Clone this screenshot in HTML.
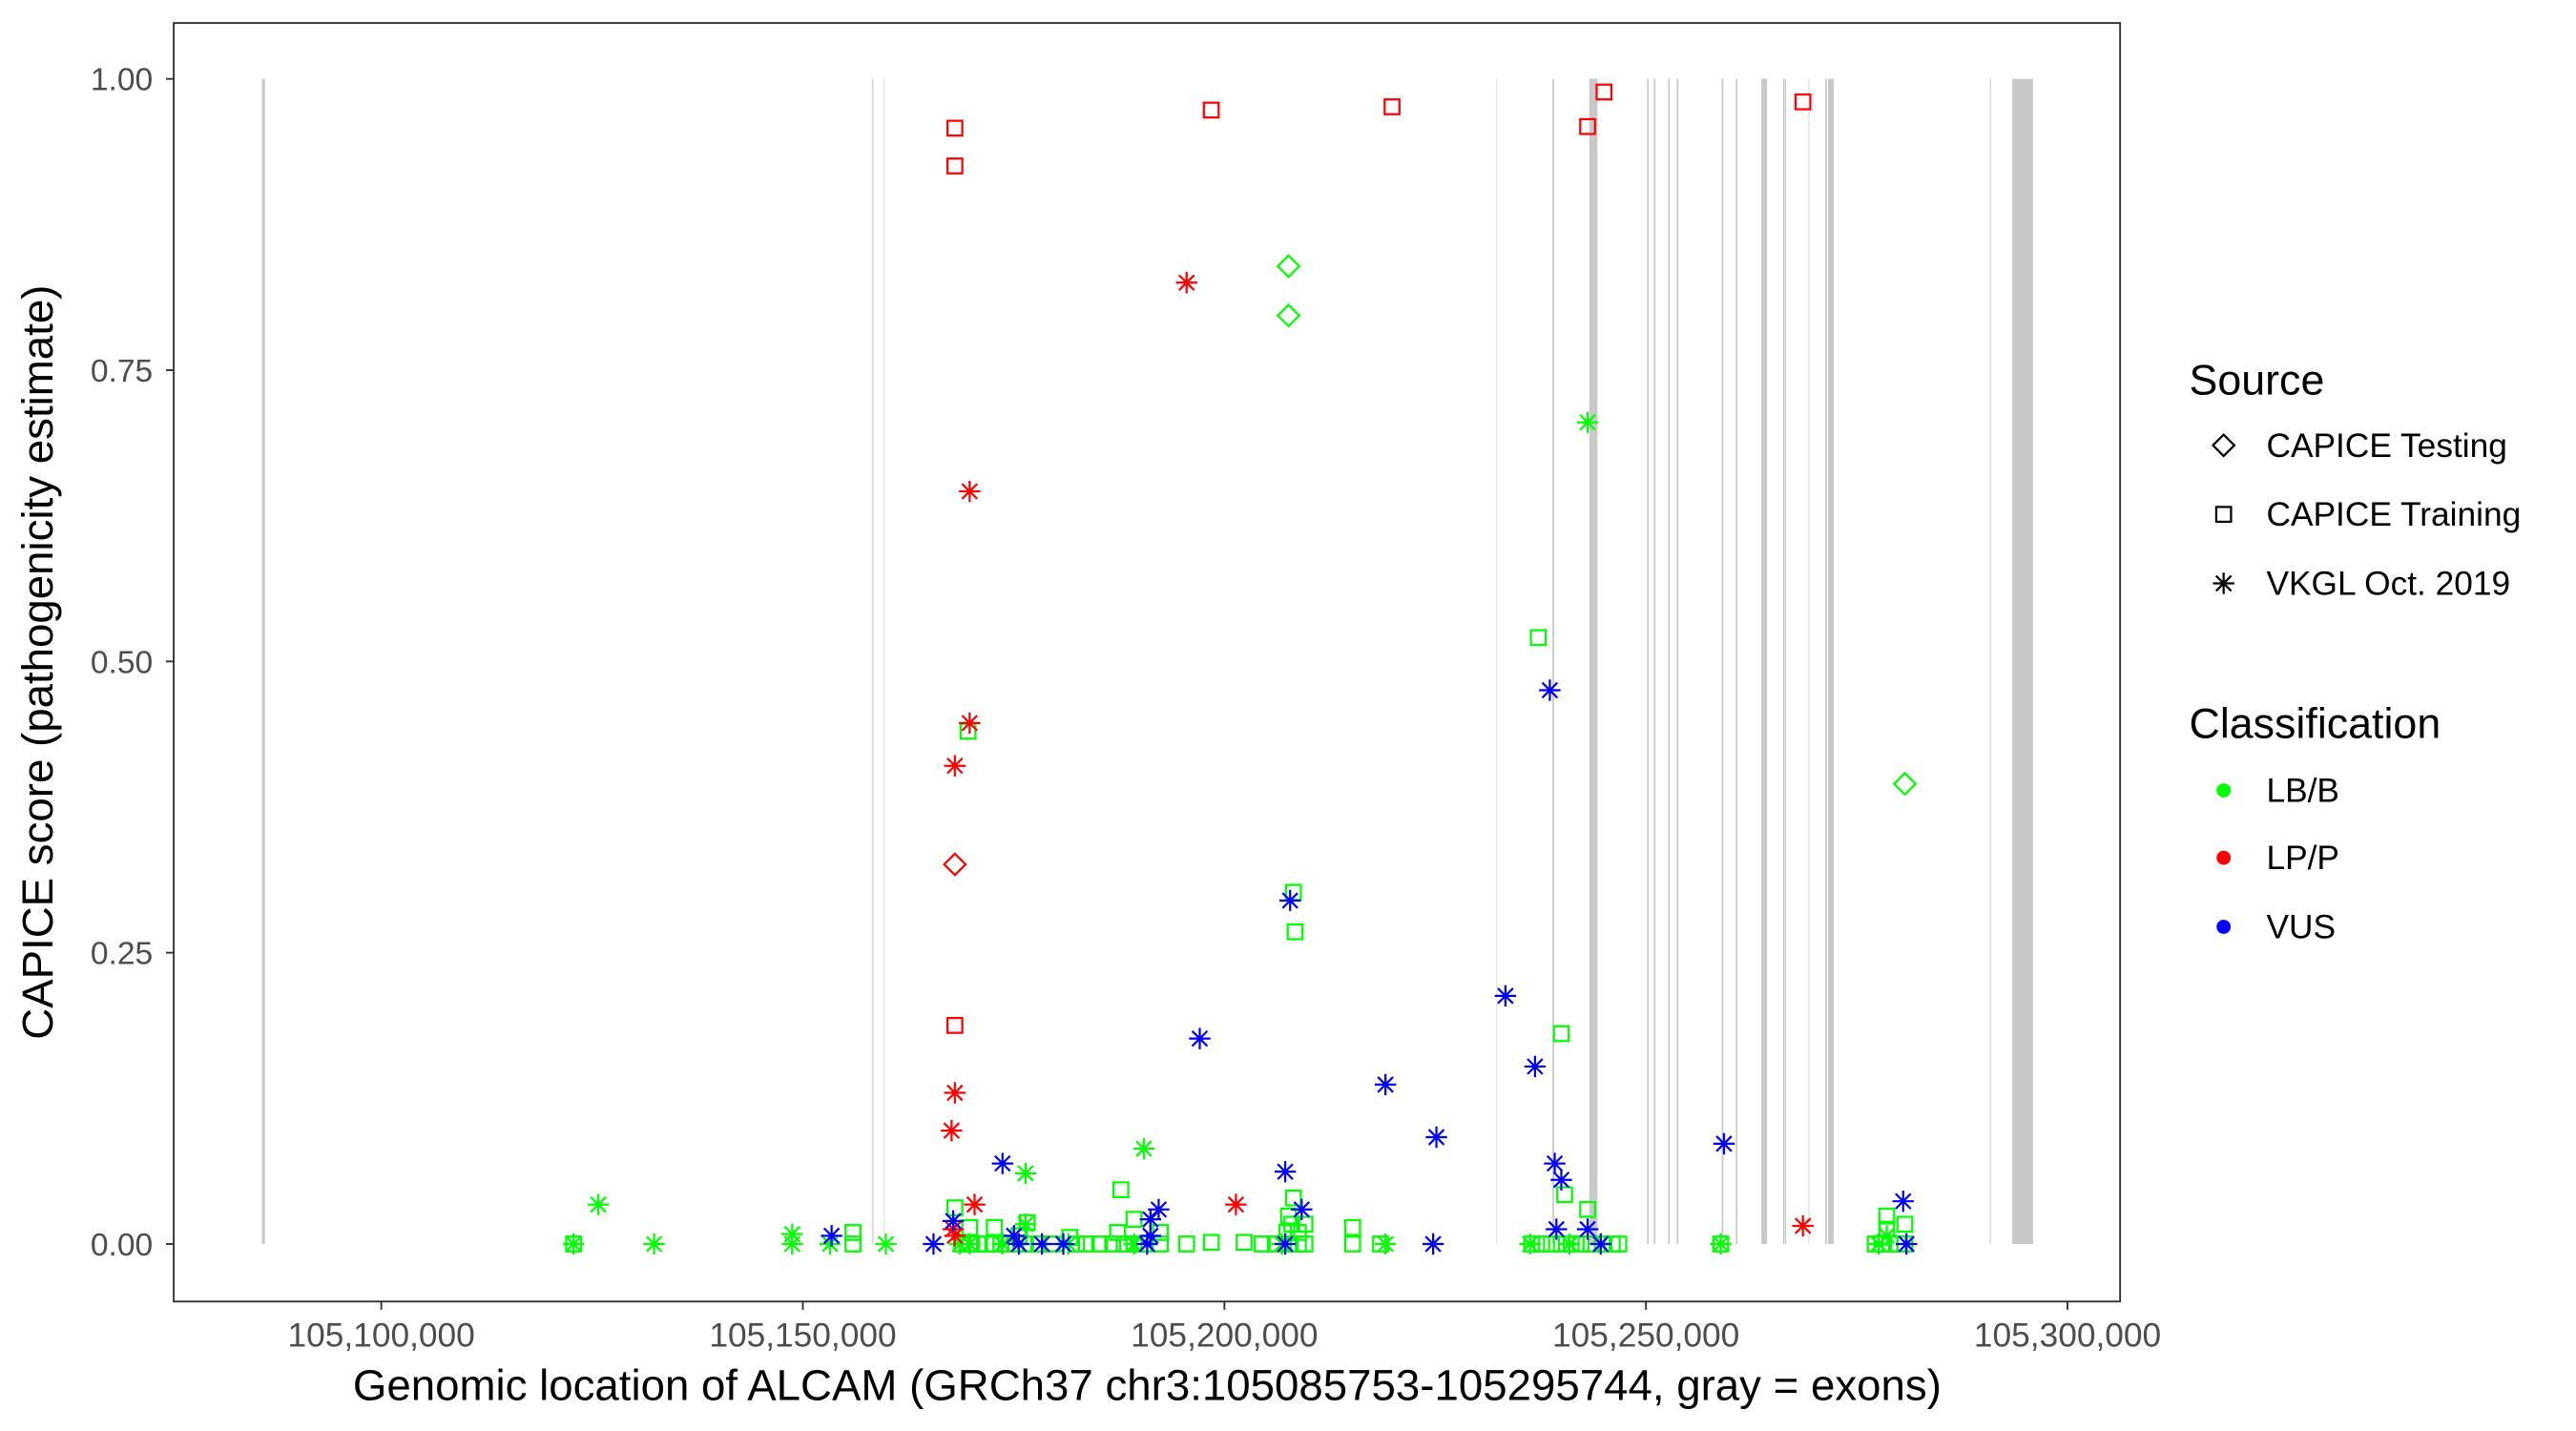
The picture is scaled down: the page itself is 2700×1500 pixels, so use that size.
<!DOCTYPE html>
<html><head><meta charset="utf-8"><style>html,body{margin:0;padding:0;background:#fff}svg{display:block}</style></head>
<body>
<svg width="2700" height="1500" viewBox="0 0 1567.4 870.8" preserveAspectRatio="none" xmlns="http://www.w3.org/2000/svg" font-family="Liberation Sans, Arial, sans-serif">
<defs>
<rect id="sq" x="-4.5" y="-4.5" width="9" height="9" fill="none" stroke="currentColor" stroke-width="1.3"/>
<polygon id="di" points="0,-6.5 6.5,0 0,6.5 -6.5,0" fill="none" stroke="currentColor" stroke-width="1.3"/>
<path id="as" d="M0,-6.5V6.5M-6.5,0H6.5M-4.6,-4.6L4.6,4.6M-4.6,4.6L4.6,-4.6" fill="none" stroke="currentColor" stroke-width="1.3"/>
</defs>
<rect x="0" y="0" width="1567.4" height="870.8" fill="#fff"/>
<!-- exons -->
<g fill="#c8c8c8">
<rect x="159.4" y="48" width="1.8" height="709"/>
<rect x="530.5" y="48" width="1" height="709" fill="#d6d6d6"/>
<rect x="537.6" y="48" width="0.8" height="709" fill="#e6e6e6"/>
<rect x="910.2" y="48" width="0.8" height="709" fill="#e6e6e6"/>
<rect x="944.6" y="48" width="1" height="709"/>
<rect x="967" y="48" width="5" height="709"/>
<rect x="1002.2" y="48" width="1" height="709"/>
<rect x="1006.3" y="48" width="1" height="709"/>
<rect x="1015" y="48" width="1" height="709"/>
<rect x="1020.2" y="48" width="1" height="709"/>
<rect x="1047.6" y="48" width="1" height="709"/>
<rect x="1056.2" y="48" width="1" height="709"/>
<rect x="1071.7" y="48" width="3.5" height="709"/>
<rect x="1084.9" y="48" width="0.8" height="709"/>
<rect x="1086.0" y="48" width="0.8" height="709"/>
<rect x="1100.3" y="48" width="0.8" height="709" fill="#e0e0e0"/>
<rect x="1110.6" y="48" width="1" height="709"/>
<rect x="1112.3" y="48" width="3.5" height="709"/>
<rect x="1210.6" y="48" width="1" height="709" fill="#dcdcdc"/>
<rect x="1224.4" y="48" width="12.6" height="709"/>
</g>
<!-- panel -->
<rect x="105.7" y="14" width="1184.3" height="778" fill="none" stroke="#333" stroke-width="1.1"/>
<g stroke="#333" stroke-width="1.1">
<line x1="101" x2="105.7" y1="48" y2="48"/><line x1="101" x2="105.7" y1="225.25" y2="225.25"/><line x1="101" x2="105.7" y1="402.5" y2="402.5"/><line x1="101" x2="105.7" y1="579.75" y2="579.75"/><line x1="101" x2="105.7" y1="757" y2="757"/>
<line x1="232" x2="232" y1="792" y2="797"/><line x1="488.5" x2="488.5" y1="792" y2="797"/><line x1="745" x2="745" y1="792" y2="797"/><line x1="1001.5" x2="1001.5" y1="792" y2="797"/><line x1="1258" x2="1258" y1="792" y2="797"/>
</g>
<g fill="#4d4d4d" font-size="19.5" text-anchor="end">
<text x="93" y="55">1.00</text><text x="93" y="232.2">0.75</text><text x="93" y="409.5">0.50</text><text x="93" y="586.7">0.25</text><text x="93" y="764">0.00</text>
</g>
<g fill="#4d4d4d" font-size="20.5" text-anchor="middle">
<text x="232" y="819.5">105,100,000</text><text x="488.5" y="819.5">105,150,000</text><text x="745" y="819.5">105,200,000</text><text x="1001.5" y="819.5">105,250,000</text><text x="1258" y="819.5">105,300,000</text>
</g>
<text x="698" y="852" font-size="26.5" text-anchor="middle" fill="#000">Genomic location of ALCAM (GRCh37 chr3:105085753-105295744, gray = exons)</text>
<text transform="translate(32,403) rotate(-90)" font-size="26.5" text-anchor="middle" fill="#000">CAPICE score (pathogenicity estimate)</text>
<!-- legend -->
<text x="1332" y="240" font-size="26">Source</text>
<use href="#di" x="1353" y="271" style="color:#000"/>
<rect x="1348.5" y="308.5" width="9" height="9" fill="none" stroke="#000" stroke-width="1.3"/>
<use href="#as" x="1353" y="355" style="color:#000"/>
<g font-size="20.5"><text x="1379" y="278">CAPICE Testing</text><text x="1379" y="320">CAPICE Training</text><text x="1379" y="362">VKGL Oct. 2019</text></g>
<text x="1332" y="449" font-size="26">Classification</text>
<circle cx="1353" cy="481" r="4.3" fill="#00ff00"/><circle cx="1353" cy="522" r="4.3" fill="#ff0000"/><circle cx="1353" cy="564" r="4.3" fill="#0000ff"/>
<g font-size="20.5"><text x="1379" y="488">LB/B</text><text x="1379" y="529">LP/P</text><text x="1379" y="571">VUS</text></g>
<g style="color:#00ff00">
<use href="#sq" x="349" y="757"/><use href="#sq" x="519" y="750"/><use href="#sq" x="519" y="757"/>
<use href="#sq" x="585" y="757"/><use href="#sq" x="590" y="757"/><use href="#sq" x="595" y="757"/><use href="#sq" x="600" y="757"/><use href="#sq" x="605" y="757"/><use href="#sq" x="612" y="757"/><use href="#sq" x="618" y="757"/><use href="#sq" x="624" y="757"/><use href="#sq" x="632" y="757"/><use href="#sq" x="640" y="757"/><use href="#sq" x="655" y="757"/><use href="#sq" x="661" y="757"/><use href="#sq" x="669" y="757"/><use href="#sq" x="677" y="757"/><use href="#sq" x="684" y="757"/><use href="#sq" x="690" y="757"/><use href="#sq" x="696" y="757"/><use href="#sq" x="706" y="757"/><use href="#sq" x="722" y="757"/><use href="#sq" x="737" y="756"/><use href="#sq" x="757" y="756"/><use href="#sq" x="768" y="757"/><use href="#sq" x="776" y="757"/><use href="#sq" x="784" y="757"/><use href="#sq" x="790" y="757"/><use href="#sq" x="794" y="757"/><use href="#sq" x="823" y="757"/><use href="#sq" x="840" y="757"/>
<use href="#sq" x="932" y="757"/><use href="#sq" x="938" y="757"/><use href="#sq" x="944" y="757"/><use href="#sq" x="950" y="757"/><use href="#sq" x="956" y="757"/><use href="#sq" x="962" y="757"/><use href="#sq" x="968" y="757"/><use href="#sq" x="975" y="757"/><use href="#sq" x="981" y="757"/><use href="#sq" x="985" y="757"/><use href="#sq" x="1047" y="757"/>
<use href="#sq" x="1141" y="757"/><use href="#sq" x="1145" y="757"/><use href="#sq" x="1150" y="757"/><use href="#sq" x="1155" y="757"/><use href="#sq" x="1159" y="757"/>
<use href="#sq" x="1148" y="740"/><use href="#sq" x="1148" y="748"/><use href="#sq" x="1159" y="745"/>
<use href="#sq" x="936" y="388"/><use href="#sq" x="589" y="445"/><use href="#sq" x="787" y="543"/><use href="#sq" x="788" y="567"/><use href="#sq" x="950" y="629"/><use href="#sq" x="682" y="724"/><use href="#sq" x="787" y="729"/><use href="#sq" x="952" y="727"/><use href="#sq" x="966" y="736"/><use href="#sq" x="823" y="747"/><use href="#sq" x="581" y="735"/><use href="#sq" x="605" y="747"/><use href="#sq" x="625" y="744"/><use href="#sq" x="590" y="747"/>
<use href="#sq" x="784" y="740"/><use href="#sq" x="786" y="745"/><use href="#sq" x="790" y="750"/><use href="#sq" x="794" y="745"/><use href="#sq" x="690" y="742"/><use href="#sq" x="706" y="750"/><use href="#sq" x="783" y="750"/>
<use href="#sq" x="620" y="752"/><use href="#sq" x="651" y="753"/><use href="#sq" x="680" y="750"/>
</g>
<g style="color:#00ff00">
<use href="#di" x="784" y="162"/><use href="#di" x="784" y="192"/><use href="#di" x="1159" y="477"/>
<use href="#as" x="966" y="257"/><use href="#as" x="364" y="733"/><use href="#as" x="349" y="757"/><use href="#as" x="398" y="757"/><use href="#as" x="482" y="751"/><use href="#as" x="482" y="757"/><use href="#as" x="505" y="757"/><use href="#as" x="539" y="757"/><use href="#as" x="624" y="714"/><use href="#as" x="696" y="699"/><use href="#as" x="624" y="745"/><use href="#as" x="843" y="757"/><use href="#as" x="931" y="757"/><use href="#as" x="1143" y="757"/><use href="#as" x="1148" y="752"/><use href="#as" x="590" y="757"/><use href="#as" x="610" y="757"/><use href="#as" x="650" y="757"/><use href="#as" x="690" y="757"/><use href="#as" x="1047" y="757"/><use href="#as" x="955" y="757"/><use href="#as" x="780" y="757"/><use href="#as" x="584" y="757"/>
</g>
<g style="color:#ff0000">
<use href="#sq" x="581" y="78"/><use href="#sq" x="581" y="101"/><use href="#sq" x="737" y="67"/><use href="#sq" x="847" y="65"/><use href="#sq" x="976" y="56"/><use href="#sq" x="966" y="77"/><use href="#sq" x="1097" y="62"/><use href="#sq" x="581" y="624"/>
<use href="#di" x="581" y="526"/>
<use href="#as" x="722" y="172"/><use href="#as" x="590" y="299"/><use href="#as" x="590" y="440"/><use href="#as" x="581" y="466"/><use href="#as" x="581" y="665"/><use href="#as" x="579" y="688"/><use href="#as" x="593" y="733"/><use href="#as" x="752" y="733"/><use href="#as" x="1097" y="746"/><use href="#as" x="580" y="748"/><use href="#as" x="581" y="752"/>
</g>
<g style="color:#0000ff">
<use href="#as" x="943" y="420"/><use href="#as" x="785" y="548"/><use href="#as" x="916" y="606"/><use href="#as" x="730" y="632"/><use href="#as" x="934" y="649"/><use href="#as" x="843" y="660"/><use href="#as" x="874" y="692"/><use href="#as" x="1049" y="696"/><use href="#as" x="610" y="708"/><use href="#as" x="782" y="713"/><use href="#as" x="946" y="708"/><use href="#as" x="950" y="718"/><use href="#as" x="705" y="736"/><use href="#as" x="700" y="742"/><use href="#as" x="792" y="736"/><use href="#as" x="1158" y="731"/><use href="#as" x="580" y="743"/><use href="#as" x="947" y="748"/><use href="#as" x="966" y="748"/><use href="#as" x="506" y="752"/><use href="#as" x="568" y="757"/><use href="#as" x="617" y="752"/><use href="#as" x="634" y="757"/><use href="#as" x="647" y="757"/><use href="#as" x="700" y="752"/><use href="#as" x="782" y="757"/><use href="#as" x="872" y="757"/><use href="#as" x="974" y="757"/><use href="#as" x="1160" y="757"/><use href="#as" x="698" y="757"/><use href="#as" x="620" y="757"/>
</g>
</svg>
</body></html>
